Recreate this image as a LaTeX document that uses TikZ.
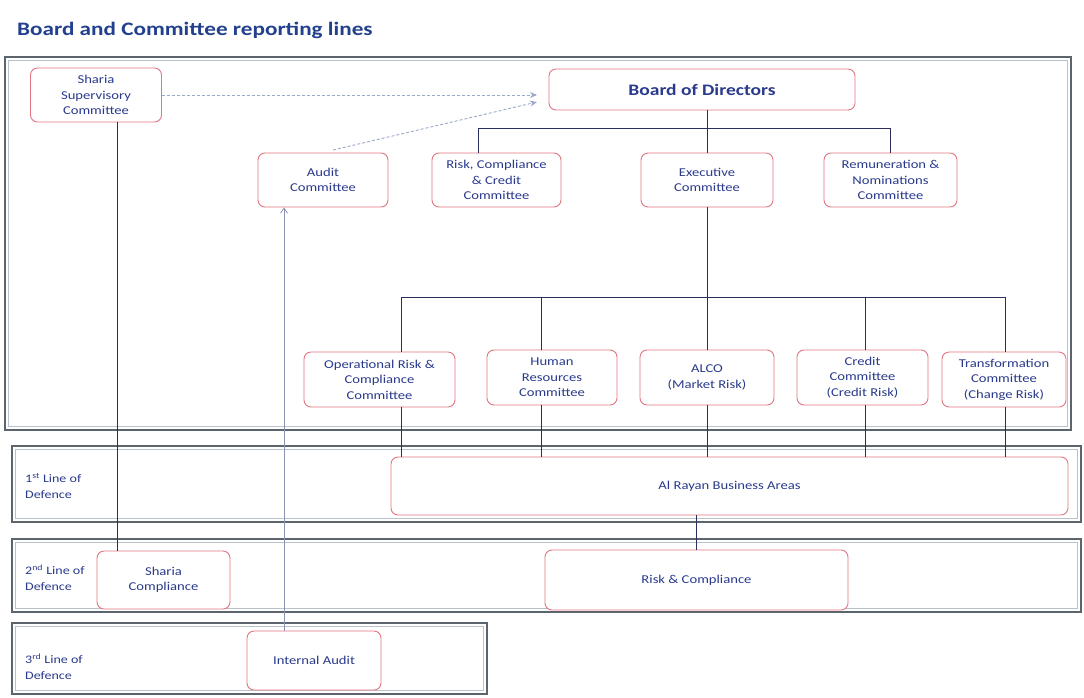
\documentclass[tikz,border=0pt]{standalone}
\usepackage{fontspec}
\setmainfont{Carlito}[FakeStretch=1.22]
\usetikzlibrary{arrows.meta}
\definecolor{navy}{HTML}{2A3A8C}
\definecolor{titlec}{HTML}{23408E}
\definecolor{linec}{HTML}{2B2D5C}
\definecolor{boxred}{HTML}{E27580}
\definecolor{panelc}{HTML}{5C646E}
\definecolor{panelin}{HTML}{B9C2CC}
\definecolor{dashc}{HTML}{9AA8C8}
\definecolor{arrc}{HTML}{8A93B5}
\begin{document}
\begin{tikzpicture}[x=1pt,y=-1pt,
  box/.style={draw=boxred, fill=white, rounded corners=7pt, line width=0.9pt,
    align=center, text=navy, font=\fontsize{12}{15.5}\selectfont, inner sep=0pt},
  conn/.style={draw=linec, line width=0.9pt},
  dashar/.style={draw=dashc, dashed, dash pattern=on 3pt off 2pt, line width=0.9pt,
    -{Stealth[length=7pt,width=6pt]}},
  uparr/.style={draw=arrc, line width=0.8pt, -{Straight Barb[length=5pt,width=7pt]}},
  panel/.style={draw=panelc, line width=2.8pt},
  panelinner/.style={draw=panelin, line width=1pt},
  lbl/.style={anchor=west, align=left, text=navy, font=\fontsize{11.5}{16}\selectfont, inner sep=0pt}
]
\useasboundingbox (0,0) rectangle (1084,697);

% title
\node[anchor=west, inner sep=0pt, text=titlec, font=\fontsize{19}{21}\bfseries] (title) at (17,30) {Board and Committee reporting lines};

% panels
\draw[panel] (5,57) rectangle (1071,430);
\draw[panelinner] (8.5,60.5) rectangle (1067.5,426.5);
\draw[panel] (12,446) rectangle (1081,522);
\draw[panelinner] (15.5,449.5) rectangle (1077.5,518.5);
\draw[panel] (12,539) rectangle (1081,612);
\draw[panelinner] (15.5,542.5) rectangle (1077.5,608.5);
\draw[panel] (12,623) rectangle (487,694);
\draw[panelinner] (15.5,626.5) rectangle (483.5,690.5);

% line labels
\node[lbl] (l1) at (25,486) {1\textsuperscript{st} Line of\\Defence};
\node[lbl] (l2) at (25,578) {2\textsuperscript{nd} Line of\\Defence};
\node[lbl] (l3) at (25,667) {3\textsuperscript{rd} Line of\\Defence};

% connector coordinates
\coordinate (bx) at (707,128);
\coordinate (xr) at (478,128);
\coordinate (xn) at (890,128);
\coordinate (q1) at (401,297);
\coordinate (q2) at (541,297);
\coordinate (q3) at (707,297);
\coordinate (q4) at (865,297);
\coordinate (q5) at (1005,297);
\coordinate (sx) at (117,0);
\coordinate (ax) at (284,0);
\coordinate (rx) at (696,0);

% boxes
\node[box, minimum width=131pt, minimum height=54pt] (ssc) at (96,95) {Sharia\\Supervisory\\Committee};
\node[box, minimum width=306pt, minimum height=41pt, font=\fontsize{16}{18}\bfseries] (bod) at (702,89.5) {Board of Directors};
\node[box, minimum width=130pt, minimum height=54pt] (ac) at (323,180) {Audit\\Committee};
\node[box, minimum width=129pt, minimum height=54pt] (rcc) at (496.5,180) {Risk, Compliance\\\& Credit\\Committee};
\node[box, minimum width=132pt, minimum height=54pt] (exc) at (707,180) {Executive\\Committee};
\node[box, minimum width=133pt, minimum height=54pt] (rnc) at (890.5,180) {Remuneration \&\\Nominations\\Committee};
\node[box, minimum width=151pt, minimum height=55pt] (orc) at (379.5,379.5) {Operational Risk \&\\Compliance\\Committee};
\node[box, minimum width=130pt, minimum height=55pt] (hrc) at (552,377.5) {Human\\Resources\\Committee};
\node[box, minimum width=134pt, minimum height=55pt] (alco) at (707,377.5) {ALCO\\(Market Risk)};
\node[box, minimum width=131pt, minimum height=55pt] (ccc) at (862.5,377.5) {Credit\\Committee\\(Credit Risk)};
\node[box, minimum width=124pt, minimum height=55pt] (tc) at (1004,379.5) {Transformation\\Committee\\(Change Risk)};
\node[box, minimum width=677pt, minimum height=58pt] (arb) at (729.5,486) {Al Rayan Business Areas};
\node[box, minimum width=133pt, minimum height=58pt] (sc) at (163.5,580) {Sharia\\Compliance};
\node[box, minimum width=303pt, minimum height=60pt] (rc) at (696.5,580) {Risk \& Compliance};
\node[box, minimum width=134pt, minimum height=59pt] (ia) at (314,660.5) {Internal Audit};

% board to committees
\draw[conn] (bod.south -| bx) -- (exc.north -| bx);
\draw[conn] (rcc.north -| xr) -- (xr) -- (xn) -- (rnc.north -| xn);

% executive to management committees
\draw[conn] (exc.south -| q3) -- (alco.north -| q3);
\draw[conn] (q1) -- (q5);
\draw[conn] (q1) -- (orc.north -| q1);
\draw[conn] (q2) -- (hrc.north -| q2);
\draw[conn] (q4) -- (ccc.north -| q4);
\draw[conn] (q5) -- (tc.north -| q5);

% management committees to business areas
\draw[conn] (orc.south -| q1) -- (arb.north -| q1);
\draw[conn] (hrc.south -| q2) -- (arb.north -| q2);
\draw[conn] (alco.south -| q3) -- (arb.north -| q3);
\draw[conn] (ccc.south -| q4) -- (arb.north -| q4);
\draw[conn] (tc.south -| q5) -- (arb.north -| q5);

% business areas to risk & compliance
\draw[conn] (arb.south -| rx) -- (rc.north -| rx);

% sharia line
\draw[conn] (ssc.south -| sx) -- (sc.north -| sx);

% internal audit to audit committee
\draw[uparr] (ia.north -| ax) -- (ac.south -| ax);

% dashed reporting arrows
\coordinate (sa) at (537,95);
\coordinate (aa) at (537,102);
\coordinate (as) at (333,150);
\draw[dashar] (ssc.east) -- (sa);
\draw[dashar] (as) -- (aa);
\end{tikzpicture}
\end{document}
